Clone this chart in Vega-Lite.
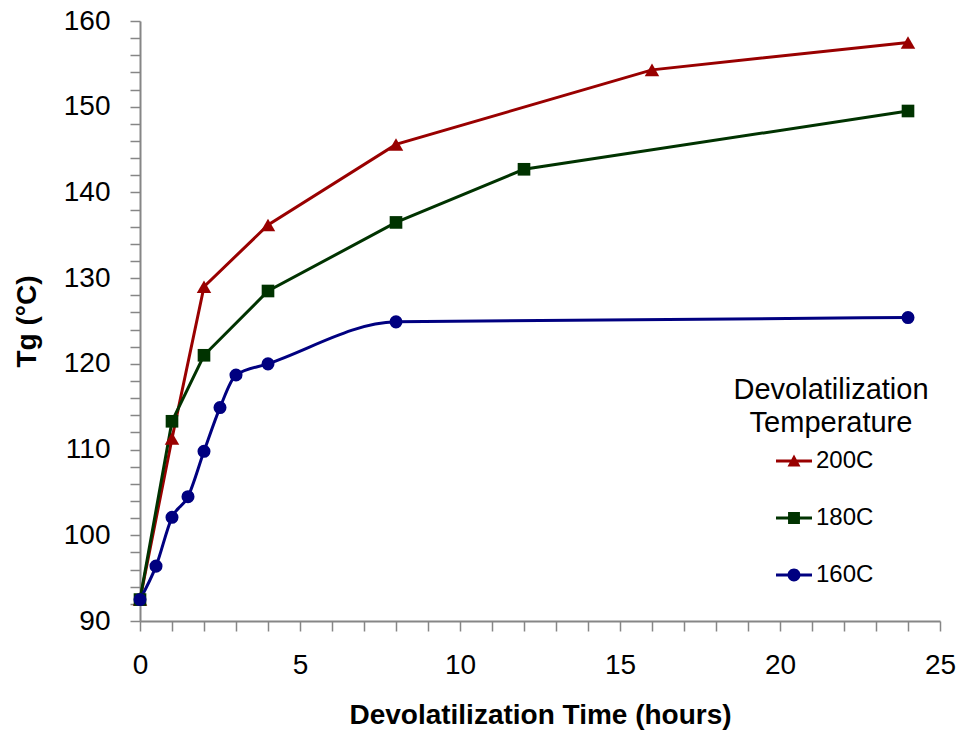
{
  "$schema": "https://vega.github.io/schema/vega-lite/v6.json",
  "width": 800,
  "height": 600,
  "autosize": {"type": "none"},
  "padding": {"left": 140, "top": 21, "right": 25, "bottom": 116},
  "background": "white",
  "config": {
    "font": "Liberation Sans",
    "view": {"stroke": null},
    "axis": {
      "grid": false,
      "domainColor": "#868686",
      "domainWidth": 2,
      "tickColor": "#868686",
      "tickWidth": 1.5,
      "tickSize": 10,
      "labelFont": "Liberation Sans",
      "labelFontSize": 28,
      "labelColor": "black",
      "labelOverlap": false,
      "labelFlush": false,
      "titleFont": "Liberation Sans",
      "titleFontSize": 28,
      "titleFontWeight": "bold",
      "titleColor": "black"
    }
  },
  "data": {
    "values": [
      {"series": "200C", "time": 0, "tg": 92.5},
      {"series": "200C", "time": 1, "tg": 111.3},
      {"series": "200C", "time": 2, "tg": 129.0},
      {"series": "200C", "time": 4, "tg": 136.2},
      {"series": "200C", "time": 8, "tg": 145.6},
      {"series": "200C", "time": 16, "tg": 154.3},
      {"series": "200C", "time": 24, "tg": 157.5},
      {"series": "180C", "time": 0, "tg": 92.5},
      {"series": "180C", "time": 1, "tg": 113.3},
      {"series": "180C", "time": 2, "tg": 121.0},
      {"series": "180C", "time": 4, "tg": 128.5},
      {"series": "180C", "time": 8, "tg": 136.5},
      {"series": "180C", "time": 12, "tg": 142.7},
      {"series": "180C", "time": 24, "tg": 149.5},
      {"series": "160C", "time": 0, "tg": 92.5},
      {"series": "160C", "time": 0.5, "tg": 96.4},
      {"series": "160C", "time": 1, "tg": 102.1},
      {"series": "160C", "time": 1.5, "tg": 104.5},
      {"series": "160C", "time": 2, "tg": 109.8},
      {"series": "160C", "time": 2.5, "tg": 114.9},
      {"series": "160C", "time": 3, "tg": 118.7},
      {"series": "160C", "time": 4, "tg": 120.0},
      {"series": "160C", "time": 8, "tg": 124.9},
      {"series": "160C", "time": 24, "tg": 125.4}
    ]
  },
  "encoding": {
    "x": {
      "field": "time",
      "type": "quantitative",
      "scale": {"domain": [0, 25], "nice": false, "zero": false},
      "axis": {
        "title": "Devolatilization Time (hours)",
        "values": [0,1,2,3,4,5,6,7,8,9,10,11,12,13,14,15,16,17,18,19,20,21,22,23,24,25],
        "labelExpr": "datum.value % 5 === 0 ? datum.label : ''",
        "labelPadding": 20,
        "titlePadding": 22
      }
    },
    "y": {
      "field": "tg",
      "type": "quantitative",
      "scale": {"domain": [90, 160], "nice": false, "zero": false},
      "axis": {
        "title": "Tg (°C)",
        "values": [90,92,94,96,98,100,102,104,106,108,110,112,114,116,118,120,122,124,126,128,130,132,134,136,138,140,142,144,146,148,150,152,154,156,158,160],
        "labelExpr": "datum.value % 10 === 0 ? datum.label : ''",
        "labelPadding": 20,
        "titlePadding": 22
      }
    },
    "color": {
      "field": "series",
      "type": "nominal",
      "scale": {"domain": ["200C", "180C", "160C"], "range": ["#990000", "#003300", "#000080"]},
      "legend": {
        "title": ["Devolatilization", "Temperature"],
        "orient": "none",
        "legendX": 593,
        "legendY": 355,
        "padding": 0,
        "titleFont": "Liberation Sans",
        "titleFontSize": 29,
        "titleFontWeight": "normal",
        "titleColor": "black",
        "titleAlign": "center",
        "titleAnchor": "middle",
        "titleLineHeight": 33,
        "titlePadding": 5,
        "titleLimit": 500,
        "labelFont": "Liberation Sans",
        "labelFontSize": 24,
        "labelColor": "black",
        "labelOffset": 4,
        "symbolType": "M-1,-0.08H1V0.08H-1Z",
        "symbolSize": 1296,
        "symbolOffset": -13,
        "rowPadding": 27,
        "encode": {
          "symbols": {
            "update": {
              "shape": {"signal": "datum.value === '200C' ? 'M-1,-0.08H1V0.08H-1Z M-0.36,0.3L0,-0.36L0.36,0.3Z' : datum.value === '180C' ? 'M-1,-0.08H1V0.08H-1Z M-0.33,-0.33H0.33V0.33H-0.33Z' : 'M-1,-0.08H1V0.08H-1Z M-0.36,0A0.36,0.36 0 1,1 0.36,0A0.36,0.36 0 1,1 -0.36,0Z'"},
              "fill": {"scale": "color", "field": "value"},
              "stroke": {"value": "transparent"},
              "strokeWidth": {"value": 0},
              "size": {"value": 1296},
              "opacity": {"value": 1}
            }
          }
        }
      }
    }
  },
  "layer": [
    {
      "transform": [{"filter": "datum.series !== '160C'"}],
      "mark": {"type": "line", "interpolate": "linear", "strokeWidth": 3}
    },
    {
      "transform": [{"filter": "datum.series === '160C'"}],
      "mark": {"type": "line", "interpolate": "monotone", "strokeWidth": 3}
    },
    {
      "transform": [{"filter": "datum.series === '200C'"}],
      "mark": {"type": "point", "filled": true, "opacity": 1, "size": 210, "shape": "triangle-up"}
    },
    {
      "transform": [{"filter": "datum.series === '180C'"}],
      "mark": {"type": "point", "filled": true, "opacity": 1, "size": 160, "shape": "square"}
    },
    {
      "transform": [{"filter": "datum.series === '160C'"}],
      "mark": {"type": "point", "filled": true, "opacity": 1, "size": 170, "shape": "circle"}
    }
  ]
}
